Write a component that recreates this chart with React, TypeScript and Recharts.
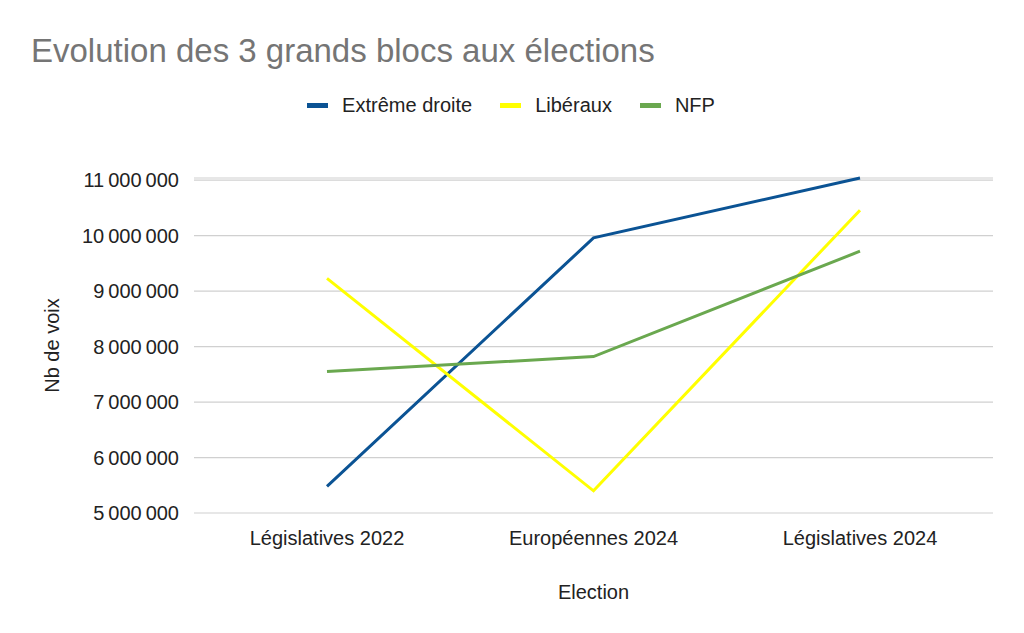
import React from "react";
import { LineChart, Line, XAxis, YAxis, CartesianGrid } from "recharts";

const elections = ["Législatives 2022", "Européennes 2024", "Législatives 2024"];
const extremeDroite = [5480000, 9960000, 11040000];
const liberaux = [9230000, 5400000, 10460000];
const nfp = [7550000, 7820000, 9720000];
const yTicks = [5000000, 6000000, 7000000, 8000000, 9000000, 10000000, 11000000];

const series = [
  { key: "extremeDroite", name: "Extrême droite", color: "#0b5394" },
  { key: "liberaux", name: "Libéraux", color: "#ffff00" },
  { key: "nfp", name: "NFP", color: "#6aa84f" },
];

const data = elections.map((election, i) => ({
  election,
  extremeDroite: extremeDroite[i],
  liberaux: liberaux[i],
  nfp: nfp[i],
}));

const FONT = "'Liberation Sans', Arial, sans-serif";
const TEXT = { fontFamily: FONT, fontSize: 20, fill: "#222" };

const formatVoix = (v: number) =>
  String(v).replace(/\B(?=(\d{3})+(?!\d))/g, "\u202f");

// legend drawn as plain html so it does not push the plot down
const LegendRow = () => (
  <div
    style={{
      position: "absolute",
      left: 0,
      top: 93,
      width: 1022,
      display: "flex",
      justifyContent: "center",
      gap: 28,
      fontFamily: FONT,
      fontSize: 20,
      color: "#222",
      lineHeight: "24px",
    }}
  >
    {series.map((s) => (
      <div key={s.key} style={{ display: "flex", alignItems: "center" }}>
        <span
          style={{
            display: "inline-block",
            width: 21,
            height: 5,
            background: s.color,
            marginRight: 14,
          }}
        />
        {s.name}
      </div>
    ))}
  </div>
);

export default function App() {
  return (
    <div
      style={{
        position: "absolute",
        left: 0,
        top: 0,
        width: 1024,
        height: 633,
        background: "#fff",
      }}
    >
      <div
        style={{
          position: "absolute",
          left: 31,
          top: 32,
          fontFamily: FONT,
          fontSize: 33,
          lineHeight: "normal",
          color: "#757575",
          whiteSpace: "nowrap",
        }}
      >
        Evolution des 3 grands blocs aux élections
      </div>
      <LegendRow />
      <LineChart
        width={1024}
        height={633}
        data={data}
        margin={{ top: 178, right: 31, left: 0, bottom: 0 }}
      >
        <CartesianGrid vertical={false} stroke="#d0d0d0" strokeWidth={1.2} />
        <XAxis
          dataKey="election"
          axisLine={false}
          tickLine={false}
          tickMargin={12}
          padding={{ left: 133, right: 133 }}
          height={120}
          tick={TEXT}
          label={{
            value: "Election",
            position: "insideBottom",
            offset: 34,
            style: TEXT,
          }}
        />
        <YAxis
          type="number"
          domain={[5000000, 11000000]}
          ticks={yTicks}
          interval={0}
          width={194}
          axisLine={false}
          tickLine={false}
          tickMargin={9}
          tickFormatter={formatVoix}
          tick={TEXT}
          label={{
            value: "Nb de voix",
            angle: -90,
            position: "insideLeft",
            offset: 52,
            style: { ...TEXT, textAnchor: "middle" },
          }}
        />
        {series.map((s) => (
          <Line
            key={s.key}
            dataKey={s.key}
            name={s.name}
            stroke={s.color}
            strokeWidth={3}
            dot={false}
            activeDot={false}
            type="linear"
            isAnimationActive={false}
          />
        ))}
      </LineChart>
    </div>
  );
}
